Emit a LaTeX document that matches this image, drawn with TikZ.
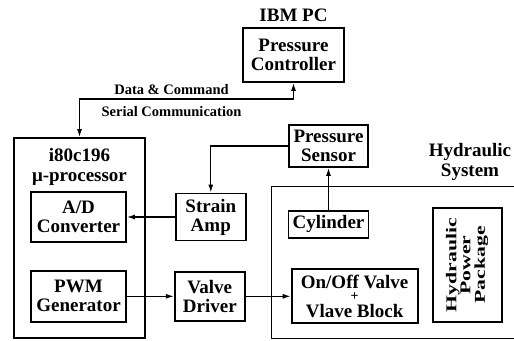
\documentclass[tikz,border=0pt]{standalone}
\usepackage{fontspec}
\setmainfont{Liberation Serif}
\usepackage{tikz}
\usetikzlibrary{shapes,arrows.meta,positioning,calc}
\tikzset{
block/.style = {draw, fill=white, rectangle, line width=1.8pt, inner sep=0pt, align=center, font=\fontsize{19}{19}\selectfont\bfseries},
title/.style = {inner sep=0pt, align=center, font=\fontsize{19}{19.5}\selectfont\bfseries},
linklabel/.style = {inner sep=0pt, font=\fontsize{14.5}{15}\selectfont\bfseries},
frame/.style = {line width=1.5pt},
}

\begin{document}
\begin{tikzpicture}[x=1pt, y=-1pt, line width=1.3pt, >={Latex[length=8pt,width=5pt]}]
    \useasboundingbox (0,0) rectangle (514,340);
    % IBM PC side
    \node [block, minimum width=101pt, minimum height=54pt] (ctrl) at (293.5,55) {Pressure\\Controller};
    \node [title, above=5pt of ctrl] (ibm) {IBM PC};
    % micro-processor board
    \node [block, minimum width=131pt, minimum height=200pt] (cpu) at (79.5,238) {};
    \node [title, below=11pt of cpu.north] (cpulabel) {i80c196\\μ-processor};
    \node [block, minimum width=95pt, minimum height=50pt] (adc) at (78.5,217) {A/D\\Converter};
    \node [block, minimum width=95pt, minimum height=51pt, below=27pt of adc] (pwm) {PWM\\Generator};
    \node [block, minimum width=70pt, minimum height=47pt, right=48pt of adc] (amp) {Strain\\Amp};
    \node [block, minimum width=70pt, minimum height=49pt, right=47pt of pwm] (drv) {Valve\\Driver};
    % hydraulic system
    \node [minimum width=242pt, minimum height=151pt, inner sep=0pt] (hyd) at (393,262.5) {};
    \node [title, align=center] (hydlabel) at (470,162) {Hydraulic\\System};
    \node [block, minimum width=79pt, minimum height=42pt] (sensor) at (328.5,146) {Pressure\\Sensor};
    \node [block, minimum width=80pt, minimum height=27pt, below=42pt of sensor] (cyl) {Cylinder};
    \node [block, minimum width=126pt, minimum height=54pt, right=45pt of drv] (valve) {On/Off Valve\\[-7pt]{\fontsize{14}{14}\selectfont +}\\[-2pt]Vlave Block};
    \node [block, minimum width=69pt, minimum height=114pt, line width=1.4pt] (hpp) at (467.5,265) {};
    \node [rotate=90, inner sep=0pt] (hpptext) at (hpp) {\scalebox{1.45}[1]{\fontsize{15}{14}\selectfont\bfseries
        \begin{tabular}{@{}c@{}}Hydraulic\\Power\\Package\end{tabular}}};
    \draw [frame] (hyd.north east) -- (hyd.north west) -- (hyd.south west) -- (hyd.south east);
    % connections
    \draw [<->] (cpu.north) -- ++(0,-38)
        node [linklabel, pos=1, above=4pt, xshift=92pt] (datalbl) {Data \& Command}
        node [linklabel, pos=1, below=7pt, xshift=92pt] (serlbl) {Serial Communication}
        -| (ctrl.south);
    \draw [->] (sensor.west) -| (amp.north);
    \draw [->] (amp) -- (adc);
    \draw [->] (pwm) -- (drv);
    \draw [->] (drv) -- (valve);
    \draw [->] (cyl) -- (sensor);
\end{tikzpicture}
\end{document}
